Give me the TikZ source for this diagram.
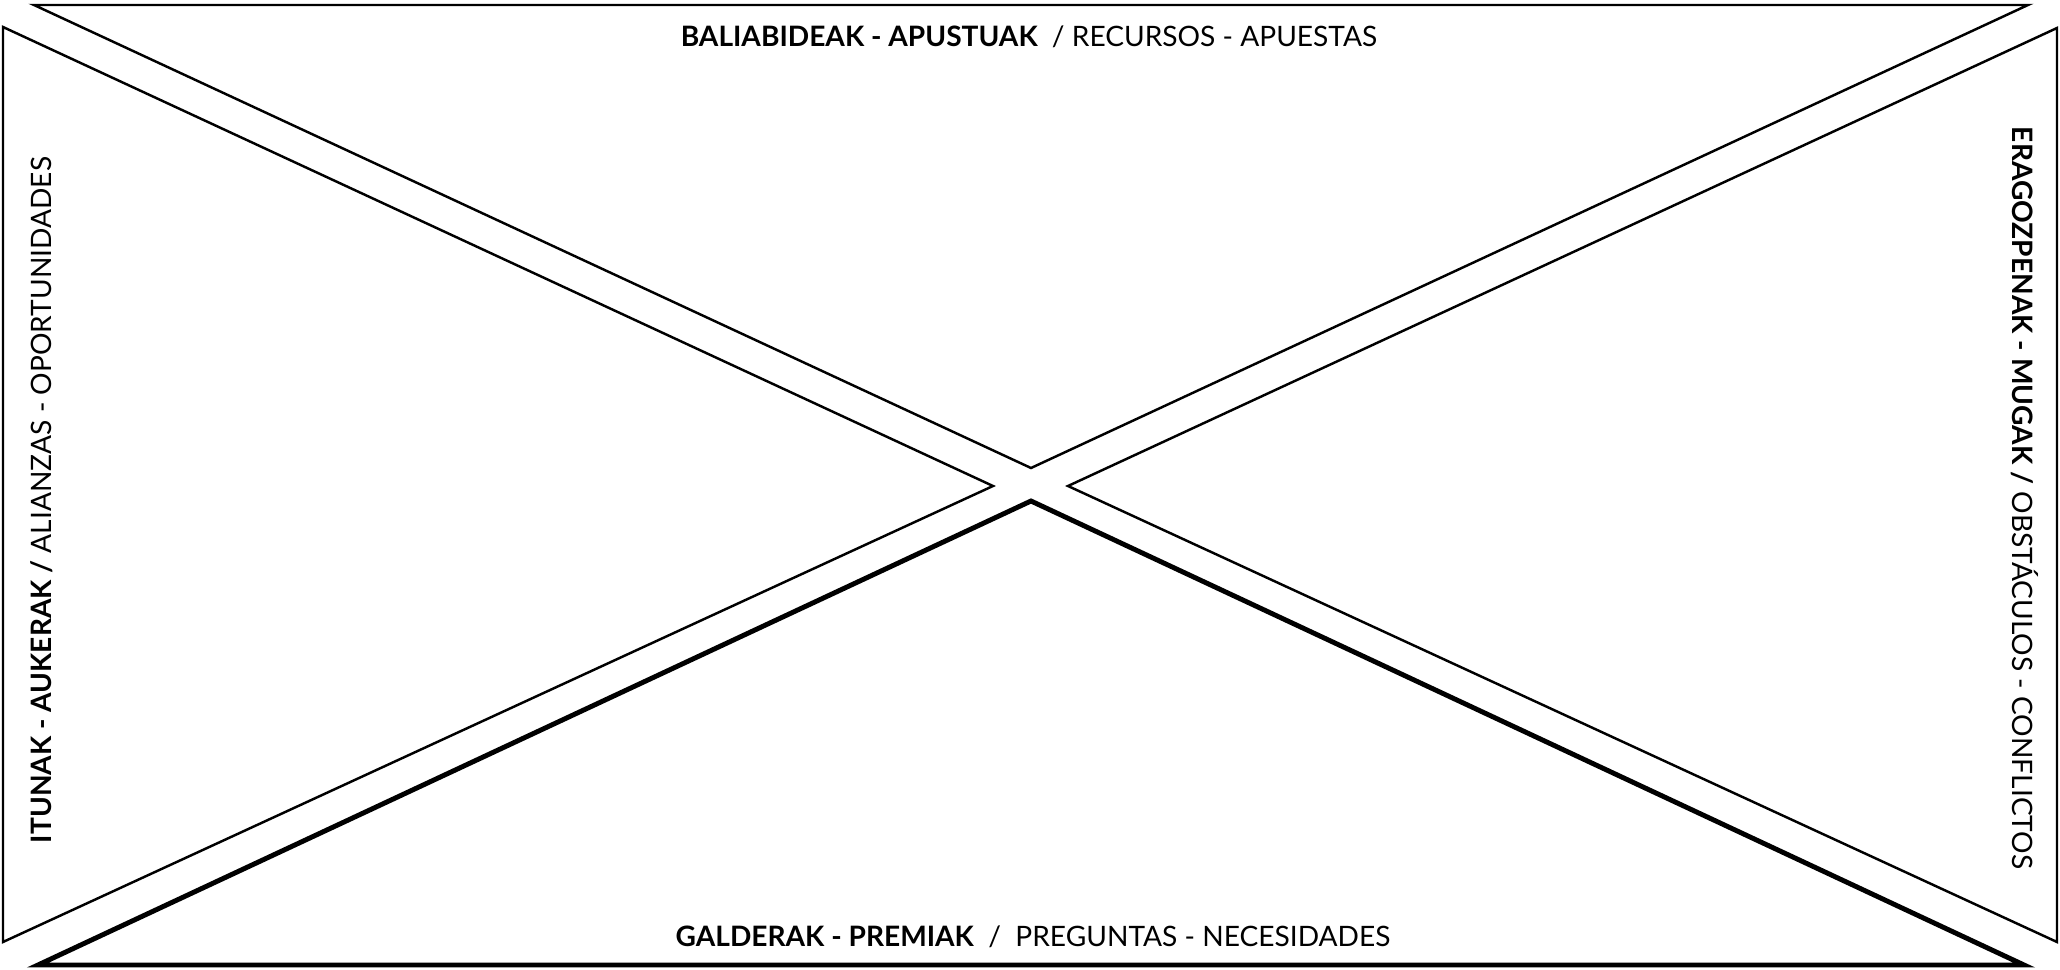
\documentclass[tikz,border=0pt]{standalone}
\usepackage{fontspec}
\setmainfont{Lato}
\usepackage{tikz}
\usetikzlibrary{positioning}
\tikzset{
  triangelua/.style={draw=black, line width=0.7pt, line join=miter},
  lodia/.style={draw=black, line width=1.4pt, line join=miter},
  etq/.style={font=\fontsize{8}{9.5}\selectfont, inner sep=0pt},
}

\begin{document}
\begin{tikzpicture}
  \useasboundingbox (0,0) rectangle (20.6,9.69);
  % lau triangeluak
  \draw[triangelua] (0.34,9.64) -- (20.28,9.64) -- (10.31,5.01) -- cycle;
  \draw[triangelua] (0.03,9.42) -- (0.03,0.27) -- (9.93,4.83) -- cycle;
  \draw[triangelua] (20.57,9.41) -- (20.57,0.27) -- (10.68,4.83) -- cycle;
  \draw[lodia] (0.38,0.04) -- (20.24,0.04) -- (10.31,4.68) -- cycle;

  % izenburuak
  \node[etq] (baliabide) at (10.29,9.32)
    {{\bfseries BALIABIDEAK - APUSTUAK}\ \ / RECURSOS - APUESTAS};
  \node[etq] (galdera) at (10.33,0.32)
    {{\bfseries GALDERAK - PREMIAK}\ \ /\ \ PREGUNTAS - NECESIDADES};
  \node[etq, rotate=90] (itun) at (0.42,4.69)
    {{\bfseries ITUNAK - AUKERAK /} ALIANZAS - OPORTUNIDADES};
  \node[etq, rotate=-90] (eragozpen) at (20.25,4.71)
    {{\bfseries ERAGOZPENAK - MUGAK /} OBSTÁCULOS - CONFLICTOS};
\end{tikzpicture}
\end{document}
